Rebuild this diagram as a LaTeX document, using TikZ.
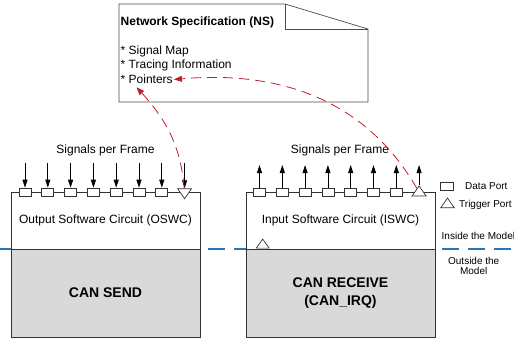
\documentclass[tikz,border=0pt]{standalone}
\usepackage{fontspec}
\setmainfont{Liberation Sans}
\usetikzlibrary{shapes.geometric,arrows.meta,positioning}
\definecolor{boxgray}{HTML}{D9D9D9}
\definecolor{linkred}{HTML}{C0202A}
\definecolor{modelblue}{HTML}{2E75B6}

\begin{document}
\begin{tikzpicture}[x=1pt,y=-1pt]
      \tikzstyle{txt} = [font=\fontsize{12}{14}\selectfont, inner sep=1pt]
      \tikzstyle{legtxt} = [font=\fontsize{10}{10}\selectfont, inner sep=1pt, align=center]
      \tikzstyle{cantxt} = [font=\fontsize{14}{18.4}\selectfont\bfseries, align=center]
      \tikzstyle{swc} = [rectangle, draw=black!80, fill=white, line width=0.7pt, minimum width=189pt, minimum height=57pt, inner sep=0pt, txt]
      \tikzstyle{can} = [swc, fill=boxgray, minimum height=87.7pt, cantxt]
      \tikzstyle{dport} = [rectangle, draw=black!80, fill=white, line width=0.7pt, minimum width=12pt, minimum height=8.5pt, inner sep=0pt]
      \tikzstyle{tport} = [isosceles triangle, isosceles triangle stretches, draw=black!80, fill=white, line width=0.7pt, minimum width=14pt, minimum height=10pt, inner sep=0pt]
      \tikzstyle{sig} = [-{Triangle[length=8pt,width=5pt]}, line width=0.8pt]
      \tikzstyle{link} = [-{Triangle[length=8pt,width=6pt]}, draw=linkred, line width=0.8pt, dash pattern=on 10pt off 6pt]

      \useasboundingbox (0,0) rectangle (514,338);

      % model border
      \coordinate (mleft) at (0,249.3);
      \coordinate (mright) at (514,249.3);
      \draw[modelblue, line width=2pt, dash pattern=on 16.5pt off 9.5pt] (mleft) -- (mright);

      % sending side
      \node[swc] (oswc) at (105.5,220.8) {Output Software Circuit (OSWC)};
      \node[can] (cansend) at (105.5,293.15) {CAN SEND};
      \node[txt] (lsig) at (105.5,150.5) {Signals per Frame};
      \foreach \i in {0,...,6} {
        \node[dport] (lp\i) at ({25+22.8*\i},192.3) {};
        \coordinate (la\i) at ({25+22.8*\i},163.3);
        \draw[sig] (la\i) -- (lp\i);
      }
      \node[tport, shape border rotate=-90] (ltrig) at (184.6,192.3) {};
      \coordinate (latr) at (184.6,163.3);
      \draw[sig] (latr) -- (ltrig);

      % receiving side
      \node[swc] (iswc) at (340.5,220.8) {Input Software Circuit (ISWC)};
      \node[can] (canrecv) at (340.5,293.15) {CAN RECEIVE\\(CAN\_IRQ)};
      \node[txt] (rsig) at (340,150.5) {Signals per Frame};
      \foreach \i in {0,...,6} {
        \node[dport] (rp\i) at ({259.5+22.8*\i},192.3) {};
        \coordinate (ra\i) at ({259.5+22.8*\i},165);
        \draw[sig] (rp\i) -- (ra\i);
      }
      \node[tport, shape border rotate=90] (rtrig) at (419.1,192.3) {};
      \coordinate (ratr) at (419.1,165);
      \draw[sig] (rtrig) -- (ratr);
      \node[tport, shape border rotate=90, minimum width=13pt, minimum height=9pt] (irq) at (262.7,244.8) {};

      % legend
      \node[dport, minimum width=12.5pt, minimum height=7.5pt] (legd) at (447,186.5) {};
      \node[legtxt, anchor=west] (legdt) at (464,186.5) {Data Port};
      \node[tport, shape border rotate=90, minimum width=13.5pt, minimum height=9.7pt] (legt) at (447.5,204.2) {};
      \node[legtxt, anchor=west] (legtt) at (458,204.5) {Trigger Port};
      \node[legtxt, anchor=west] (inside) at (440.5,235.5) {Inside the Model};
      \node[legtxt] (outside) at (473.7,265.7) {Outside the\\Model};

      % network specification
      \draw[black!70, line width=0.7pt, fill=white] (119,4) -- (285,4) -- (368,29) -- (368,102) -- (119,102) -- cycle;
      \draw[black!70, line width=0.7pt] (285,4) -- (285,29) -- (368,29);
      \node[txt, font=\fontsize{12}{14}\selectfont\bfseries, anchor=west] (ns) at (119.5,22.5) {Network Specification (NS)};
      \node[txt, anchor=west] (smap) at (119.5,51.5) {* Signal Map};
      \node[txt, anchor=west] (trace) at (119.5,65) {* Tracing Information};
      \node[txt, anchor=west] (ptr) at (119.5,79.5) {* Pointers};

      \draw[link] (ltrig) to[out=95, in=-48] ([xshift=17pt,yshift=-2pt]ptr.south west);
      \draw[link] (rtrig) to[out=120, in=5] (ptr.east);
\end{tikzpicture}
\end{document}
